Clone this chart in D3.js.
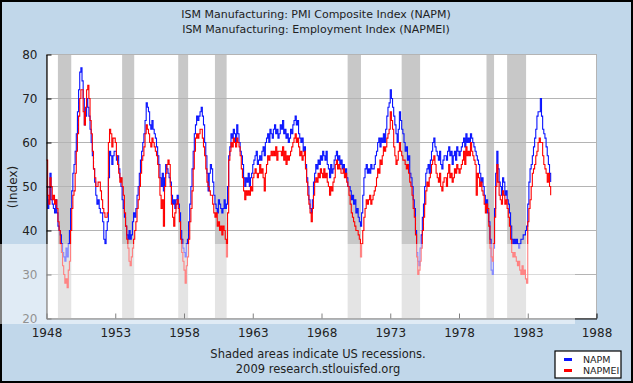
<!DOCTYPE html>
<html><head><meta charset="utf-8">
<script src="https://cdn.jsdelivr.net/npm/d3@7"></script>
<style>body{margin:0;padding:0;background:#fff}svg{display:block}</style>
</head><body>
<script>
// ---- data (monthly, Jan 1948 .. Sep 1984) ----
const startYear = 1948;
const napm = [
 50,45,47,53,47,46,45,44,47,44,41,40, // 1948
 39,37,35,34,33,36,34,37,40,45,49,53, // 1949
 55,58,62,67,72,76,77,74,70,64,66,70, // 1950
 68,66,63,60,57,54,51,48,46,47,45,44, // 1951
 44,42,38,37,40,42,52,58,57,55,57,58, // 1952
 58,56,57,54,52,50,47,45,43,41,39,38, // 1953
 40,38,39,42,44,43,45,48,50,53,56,58, // 1954
 60,62,65,69,68,67,64,63,65,63,62,61, // 1955
 59,57,55,52,50,53,49,52,55,54,53,52, // 1956
 51,48,46,47,45,47,48,46,44,40,38,36, // 1957
 35,34,37,38,42,46,50,54,58,62,64,66, // 1958
 65,66,67,68,66,64,60,57,53,49,53,55, // 1959
 54,51,48,46,45,44,47,46,45,44,45,47, // 1960
 45,46,50,57,59,62,61,63,62,60,64,62, // 1961
 60,58,57,55,52,50,52,51,53,50,52,53, // 1962
 55,56,57,58,55,56,57,56,58,59,57,60, // 1963
 61,62,60,63,62,61,63,64,62,63,61,62, // 1964
 64,63,65,62,63,61,62,60,61,63,62,64, // 1965
 65,66,64,65,62,61,60,61,58,59,55,52, // 1966
 50,47,45,44,47,51,53,55,54,56,55,57, // 1967
 56,58,57,56,58,55,54,52,55,53,54,56, // 1968
 57,58,56,57,55,56,54,55,53,54,52,50, // 1969
 50,49,47,48,46,47,44,45,43,42,41,44, // 1970
 48,52,54,55,53,54,53,55,54,54,55,57, // 1971
 58,60,61,59,61,60,62,60,63,66,68,69, // 1972
 72,70,68,66,64,62,60,63,67,65,63,62, // 1973
 60,58,59,56,57,53,52,50,47,45,40,35, // 1974
 33,32,36,39,43,46,50,53,54,55,53,56, // 1975
 58,60,61,59,58,57,56,58,55,54,56,57, // 1976
 57,56,58,59,57,58,55,57,58,56,59,58, // 1977
 57,58,59,60,61,59,62,60,61,60,62,61, // 1978
 60,59,58,57,56,55,53,51,52,50,48,46, // 1979
 47,44,42,38,31,30,36,45,53,58,54,51, // 1980
 50,48,52,51,48,49,47,46,44,41,38,37, // 1981
 38,37,38,37,36,37,38,38,39,39,40,41, // 1982
 46,51,54,55,57,59,61,63,66,67,67,70, // 1983
 66,63,62,61,59,57,55,53,51           // 1984
];
const napmei = [
 56,48,46,52,50,47,48,46,47,45,42,40, // 1948
 37,35,32,30,28,29,27,31,33,40,45,48, // 1949
 49,53,58,62,66,70,72,72,67,64,68,72, // 1950
 73,70,65,62,58,54,52,50,50,51,51,49, // 1951
 47,45,44,43,43,44,60,63,62,59,61,61, // 1952
 60,57,55,53,51,52,50,48,44,41,38,36, // 1953
 33,32,34,36,38,40,42,45,47,50,53,56, // 1954
 57,59,62,64,63,62,60,59,61,60,59,58, // 1955
 57,55,52,48,45,47,41,50,53,55,56,55, // 1956
 50,46,43,41,44,46,47,45,42,38,35,33, // 1957
 31,28,32,34,38,42,45,49,54,58,61,62, // 1958
 61,62,63,63,61,59,57,54,51,50,49,48, // 1959
 48,46,44,43,44,41,42,40,41,39,41,40, // 1960
 38,34,44,56,58,60,59,61,60,59,61,60, // 1961
 59,57,54,52,49,47,49,48,49,48,50,49, // 1962
 52,53,54,53,52,53,55,53,54,52,49,53, // 1963
 55,57,56,57,58,57,58,57,59,56,58,58, // 1964
 58,57,59,56,58,55,57,56,57,58,59,60, // 1965
 61,62,60,61,59,57,58,56,57,58,54,51, // 1966
 48,46,44,42,45,48,51,52,51,53,52,54, // 1967
 53,52,54,52,53,51,50,48,50,49,51,52, // 1968
 55,56,54,55,54,53,53,54,52,53,51,50, // 1969
 48,46,44,43,42,41,40,40,39,38,34,37, // 1970
 40,43,45,47,46,47,48,46,47,48,49,50, // 1971
 52,54,53,56,55,57,59,58,59,61,62,63, // 1972
 67,65,63,59,57,55,56,58,60,58,57,56, // 1973
 56,55,54,55,53,51,50,48,45,43,39,34, // 1974
 30,31,33,36,40,43,46,49,51,50,52,53, // 1975
 55,56,57,55,53,52,51,53,50,49,51,52, // 1976
 52,50,53,55,52,53,51,52,54,53,55,54, // 1977
 53,54,55,56,58,55,59,57,58,57,60,58, // 1978
 57,56,55,48,53,52,50,51,49,48,46,44, // 1979
 46,45,41,36,34,33,37,43,50,55,51,48, // 1980
 47,46,49,48,46,47,45,43,41,38,35,34, // 1981
 35,34,33,32,33,31,30,32,30,31,29,28, // 1982
 42,45,47,50,53,54,55,57,58,60,61,60, // 1983
 60,57,55,54,53,51,53,50,48           // 1984
];
const recStart = [1948.83, 1953.5, 1957.58, 1960.25, 1969.9, 1973.83, 1980.0, 1981.5];
const recEnd   = [1949.8, 1954.38, 1958.3, 1961.1, 1970.87, 1975.17, 1980.55, 1982.88];
const xTicks = [1948, 1953, 1958, 1963, 1968, 1973, 1978, 1983, 1988];
const yTicks = [20, 30, 40, 50, 60, 70, 80];
const seriesNames = ["NAPM", "NAPMEI"];
const seriesColors = ["#0a14ff", "#ff0000"];
const titles = ["ISM Manufacturing: PMI Composite Index (NAPM)", "ISM Manufacturing: Employment Index (NAPMEI)"];
const footer = ["Shaded areas indicate US recessions.", "2009 research.stlouisfed.org"];

// ---- drawing ----
const W = 633, H = 383;
const svg = d3.select("body").append("svg").attr("width", W).attr("height", H)
  .style("font-family", "'DejaVu Sans', Verdana, sans-serif");
svg.append("rect").attr("x", 1).attr("y", 1).attr("width", W - 2).attr("height", H - 2)
  .attr("fill", "#c1d7ea").attr("stroke", "#000").attr("stroke-width", 2);

const x = d3.scaleLinear().domain([1948, 1988]).range([46.5, 596.5]);
const y = d3.scaleLinear().domain([20, 80]).range([318.5, 54.5]);

// plot bg
svg.append("rect").attr("x", x(1948)).attr("y", y(80)).attr("width", x(1988) - x(1948))
  .attr("height", y(20) - y(80)).attr("fill", "#fff").attr("stroke", "#b4b4b4").attr("stroke-width", 1);

// recessions
svg.append("g").selectAll("rect").data(recStart).join("rect")
  .attr("x", (d) => x(d)).attr("width", (d, i) => x(recEnd[i]) - x(d))
  .attr("y", y(80) + 0.5).attr("height", y(20) - y(80) - 0.5).attr("fill", "#c8c8c8");

// gridlines
svg.append("g").selectAll("line").data(yTicks.filter(v => v > 20 && v < 80)).join("line")
  .attr("x1", x(1948)).attr("x2", x(1988)).attr("y1", d => y(d)).attr("y2", d => y(d))
  .attr("stroke", "#b4b4b4").attr("stroke-width", 1);

// series
const toPts = arr => arr.map((v, i) => [startYear + i / 12, v]);
const line = d3.line().x(d => x(d[0])).y(d => y(d[1])).curve(d3.curveStepAfter);
[napm, napmei].forEach((arr, k) => {
  svg.append("path").datum(toPts(arr)).attr("d", line).attr("fill", "none")
    .attr("stroke", seriesColors[k]).attr("stroke-width", 1.1);
});

// axes
const yAxis = d3.axisLeft(y).tickValues(yTicks).tickSizeInner(-5).tickSizeOuter(0).tickPadding(9);
const gy = svg.append("g").attr("transform", `translate(${x(1948)},0)`).call(yAxis);
const xAxis = d3.axisBottom(x).tickValues(xTicks).tickFormat(d3.format("d")).tickSizeInner(-5).tickSizeOuter(0).tickPadding(10);
const gx = svg.append("g").attr("transform", `translate(0,${y(20)})`).call(xAxis);
[gx, gy].forEach(g => {
  g.select(".domain").attr("stroke", "#000").attr("stroke-width", 1.2);
  g.selectAll(".tick line").attr("stroke", "#000");
  g.selectAll("text").attr("fill", "#222").style("font-size", "12px").style("font-family", "'DejaVu Sans', Verdana, sans-serif");
});

// watermark band (photobucket overlay in reference)
svg.append("rect").attr("x", 0).attr("y", 244).attr("width", 575).attr("height", 80)
  .attr("fill", "#fff").attr("opacity", 0.5);

// titles
svg.append("g").selectAll("text").data(titles).join("text")
  .attr("x", 316).attr("y", (d, i) => 18 + i * 14.5).attr("text-anchor", "middle")
  .style("font-size", "11px").attr("fill", "#222").text(d => d);

// y label
svg.append("text").attr("transform", "translate(17,187) rotate(-90)").attr("text-anchor", "middle")
  .style("font-size", "12px").attr("fill", "#222").text("(Index)");

// footer
svg.append("g").selectAll("text").data(footer).join("text")
  .attr("x", 318).attr("y", (d, i) => 358 + i * 15).attr("text-anchor", "middle")
  .style("font-size", "11.5px").attr("fill", "#222").text(d => d);

// legend
const lg = svg.append("g").attr("transform", "translate(555,351)");
lg.append("rect").attr("width", 66).attr("height", 27).attr("fill", "#fff").attr("stroke", "#000").attr("stroke-width", 1.2);
seriesNames.forEach((n, i) => {
  lg.append("line").attr("x1", 9).attr("x2", 17).attr("y1", 8.5 + i * 11).attr("y2", 8.5 + i * 11)
    .attr("stroke", seriesColors[i]).attr("stroke-width", 3);
  lg.append("text").attr("x", 28).attr("y", 12 + i * 11).style("font-size", "9.5px").attr("fill", "#222").text(n);
});
</script>
</body></html>
